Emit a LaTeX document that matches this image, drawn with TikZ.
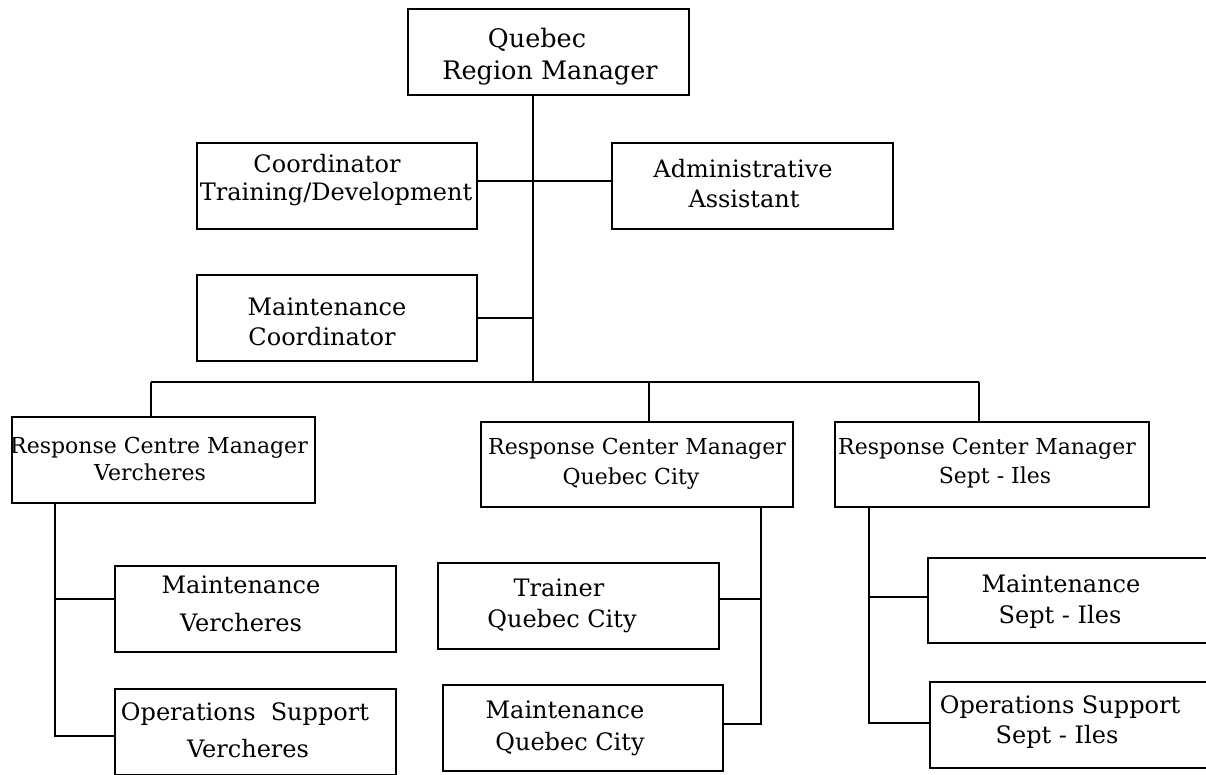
\documentclass[tikz,border=0pt]{standalone}
\usepackage{fontspec}
\setmainfont{DejaVu Serif}
\begin{document}
\begin{tikzpicture}[x=1pt,y=-1pt,
  box/.style={draw, line width=1.8pt, inner sep=0pt},
  conn/.style={line width=1.8pt},
  lbl/.style={anchor=base, inner sep=0pt, font=\fontsize{24}{28}\selectfont},
  tlbl/.style={anchor=base, inner sep=0pt, font=\fontsize{25.5}{28}\selectfont},
  slbl/.style={anchor=base, inner sep=0pt, font=\fontsize{22}{26}\selectfont}]
\useasboundingbox (0,0) rectangle (1206,774);
\clip (0,0) rectangle (1206,774);
% boxes
\node[box, minimum width=281pt, minimum height=86pt] (top)  at (548.5,52) {};
\node[box, minimum width=280pt, minimum height=86pt] (ctd)  at (337,186) {};
\node[box, minimum width=281pt, minimum height=86pt] (adm)  at (752.5,186) {};
\node[box, minimum width=280pt, minimum height=86pt] (mc)   at (337,318) {};
\node[box, minimum width=303pt, minimum height=86pt] (rcmv) at (163.5,460) {};
\node[box, minimum width=312pt, minimum height=85pt] (rcmq) at (637,464.5) {};
\node[box, minimum width=314pt, minimum height=85pt] (rcms) at (992,464.5) {};
\node[box, minimum width=281pt, minimum height=86pt] (mv)   at (255.5,609) {};
\node[box, minimum width=281pt, minimum height=86pt] (ov)   at (255.5,732) {};
\node[box, minimum width=281pt, minimum height=86pt] (tq)   at (578.5,606) {};
\node[box, minimum width=280pt, minimum height=86pt] (mq)   at (583,728) {};
\node[box, minimum width=281pt, minimum height=85pt] (ms)   at (1068.5,600.5) {};
\node[box, minimum width=281pt, minimum height=86pt] (os)   at (1070.5,725) {};
% texts
\node[tlbl] (topa) at (537,47) {Quebec};
\node[tlbl] (topb) at (550,79) {Region Manager};
\node[lbl] (ctda) at (327,172) {Coordinator};
\node[lbl] (ctdb) at (336,200) {Training/Development};
\node[lbl] (adma) at (743,177) {Administrative};
\node[lbl] (admb) at (744,207) {Assistant};
\node[lbl] (mca) at (327,315) {Maintenance};
\node[lbl] (mcb) at (322,345) {Coordinator};
\node[slbl] (rcmva) at (159,453) {Response Centre Manager};
\node[slbl] (rcmvb) at (150,480) {Vercheres};
\node[lbl] (mva) at (241,593) {Maintenance};
\node[lbl] (mvb) at (241,631) {Vercheres};
\node[lbl] (ova) at (245,720) {Operations~~Support};
\node[lbl] (ovb) at (248,757) {Vercheres};
\node[slbl] (rcmqa) at (637,454) {Response Center Manager};
\node[slbl] (rcmqb) at (631,484) {Quebec City};
\node[lbl] (tqa) at (559,596) {Trainer};
\node[lbl] (tqb) at (562,627) {Quebec City};
\node[lbl] (mqa) at (565,718) {Maintenance};
\node[lbl] (mqb) at (570,750) {Quebec City};
\node[slbl] (rcmsa) at (987,454) {Response Center Manager};
\node[slbl] (rcmsb) at (995,483) {Sept - Iles};
\node[lbl] (msa) at (1061,592) {Maintenance};
\node[lbl] (msb) at (1060,623) {Sept - Iles};
\node[lbl] (osa) at (1060,713) {Operations~Support};
\node[lbl] (osb) at (1057,743) {Sept - Iles};
% branch coordinates
\coordinate (spine) at (533,382);
\coordinate (c1) at (533,181);
\coordinate (busL) at (151,382);
\coordinate (busM) at (649,382);
\coordinate (busR) at (979,382);
\coordinate (vb1) at (55,599);
\coordinate (vb2) at (55,736);
\coordinate (qb1) at (761,599);
\coordinate (qb2) at (761,724);
\coordinate (sb1) at (869,597);
\coordinate (sb2) at (869,723);
% connectors
\draw[conn] (top.south -| spine) -- (spine);
\draw[conn] (c1 -| ctd.east) -- (c1 -| adm.west);
\draw[conn] (mc.east) -- (mc.east -| spine);
\draw[conn] (busL) -- (busR);
\draw[conn] (busL) -- (busL |- rcmv.north);
\draw[conn] (busM) -- (busM |- rcmq.north);
\draw[conn] (busR) -- (busR |- rcms.north);
\draw[conn] (vb2 |- rcmv.south) -- (vb2) -- (vb2 -| ov.west);
\draw[conn] (vb1) -- (vb1 -| mv.west);
\draw[conn] (qb2 |- rcmq.south) -- (qb2) -- (qb2 -| mq.east);
\draw[conn] (qb1) -- (qb1 -| tq.east);
\draw[conn] (sb2 |- rcms.south) -- (sb2) -- (sb2 -| os.west);
\draw[conn] (sb1) -- (sb1 -| ms.west);
\end{tikzpicture}
\end{document}
